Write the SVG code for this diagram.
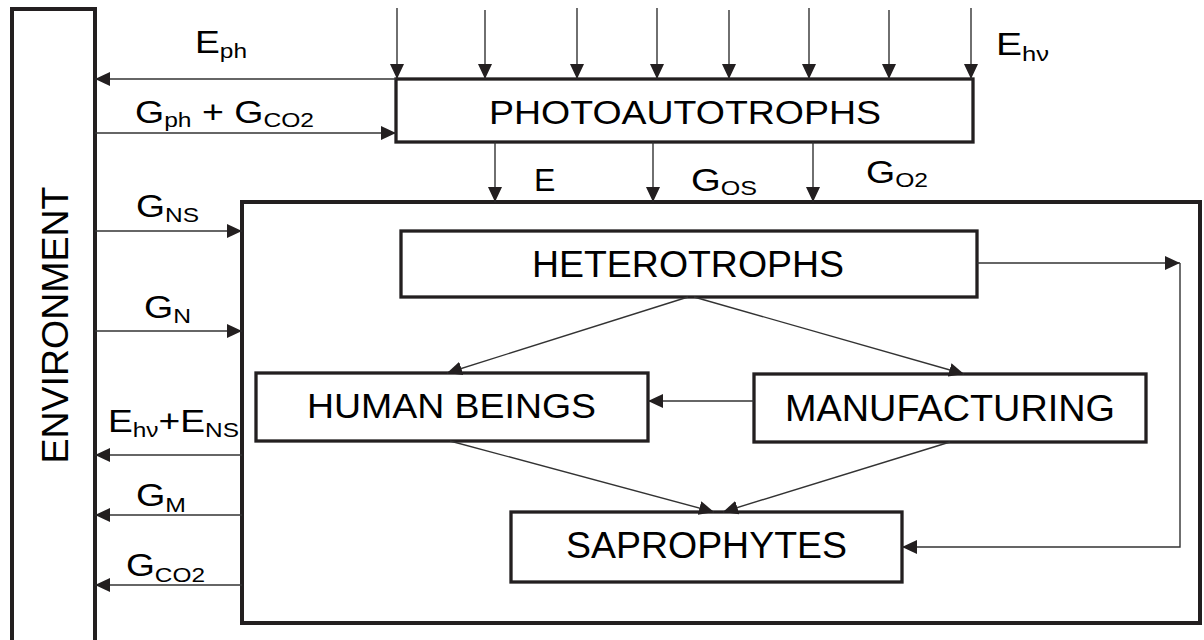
<svg xmlns="http://www.w3.org/2000/svg" width="1204" height="640" viewBox="0 0 1204 640">
<style>
.box{fill:#fff;stroke:#231f20;stroke-width:3.3}
.heavy{stroke-width:4}
.ln{fill:none;stroke:#333;stroke-width:1.4}
.t{font-family:"Liberation Sans",Arial,sans-serif;fill:#000}
.lab{font-size:32px}
.sub{font-size:21px}
</style>
<defs>
<marker id="ah" viewBox="0 0 15 14" refX="15" refY="7" markerWidth="15" markerHeight="14" markerUnits="userSpaceOnUse" orient="auto">
<path d="M0,0 L15,7 L0,14 z" fill="#231f20"/>
</marker>
</defs>
<rect width="1204" height="640" fill="#fff"/>

<g id="environment">
<rect class="box heavy" x="12" y="9" width="83" height="700"/>
<text class="t" font-size="37" transform="translate(68,325) rotate(-90)" text-anchor="middle" textLength="277" lengthAdjust="spacingAndGlyphs">ENVIRONMENT</text>
</g>

<g id="system">
<rect class="box heavy" x="242" y="202" width="958" height="421"/>
</g>

<g id="photoautotrophs">
<rect class="box" x="396" y="79" width="577" height="63"/>
<text class="t" font-size="34" x="489" y="124" textLength="392" lengthAdjust="spacingAndGlyphs">PHOTOAUTOTROPHS</text>
</g>

<g id="heterotrophs">
<rect class="box" x="401" y="231" width="576" height="66"/>
<text class="t" font-size="37" x="532" y="277" textLength="312" lengthAdjust="spacingAndGlyphs">HETEROTROPHS</text>
</g>

<g id="human-beings">
<rect class="box" x="256" y="373" width="392" height="68"/>
<text class="t" font-size="35" x="307" y="418" textLength="289" lengthAdjust="spacingAndGlyphs">HUMAN BEINGS</text>
</g>

<g id="manufacturing">
<rect class="box" x="754" y="374" width="392" height="68"/>
<text class="t" font-size="37" x="785" y="421" textLength="330" lengthAdjust="spacingAndGlyphs">MANUFACTURING</text>
</g>

<g id="saprophytes">
<rect class="box" x="511" y="512" width="391" height="70"/>
<text class="t" font-size="36" x="566" y="558" textLength="281" lengthAdjust="spacingAndGlyphs">SAPROPHYTES</text>
</g>

<g id="connectors">
<line class="ln" x1="397" y1="8" x2="397" y2="79" marker-end="url(#ah)"/>
<line class="ln" x1="485" y1="10" x2="485" y2="79" marker-end="url(#ah)"/>
<line class="ln" x1="577" y1="8" x2="577" y2="79" marker-end="url(#ah)"/>
<line class="ln" x1="657" y1="8" x2="657" y2="79" marker-end="url(#ah)"/>
<line class="ln" x1="729" y1="10" x2="729" y2="79" marker-end="url(#ah)"/>
<line class="ln" x1="809" y1="8" x2="809" y2="79" marker-end="url(#ah)"/>
<line class="ln" x1="889" y1="10" x2="889" y2="79" marker-end="url(#ah)"/>
<line class="ln" x1="971" y1="8" x2="971" y2="79" marker-end="url(#ah)"/>
<line class="ln" x1="396" y1="79" x2="95" y2="79" marker-end="url(#ah)"/>
<line class="ln" x1="95" y1="133" x2="396" y2="133" marker-end="url(#ah)"/>
<line class="ln" x1="495" y1="142" x2="495" y2="202" marker-end="url(#ah)"/>
<line class="ln" x1="653" y1="142" x2="653" y2="202" marker-end="url(#ah)"/>
<line class="ln" x1="813" y1="142" x2="813" y2="202" marker-end="url(#ah)"/>
<line class="ln" x1="95" y1="231" x2="242" y2="231" marker-end="url(#ah)"/>
<line class="ln" x1="95" y1="331" x2="242" y2="331" marker-end="url(#ah)"/>
<line class="ln" x1="242" y1="455" x2="95" y2="455" marker-end="url(#ah)"/>
<line class="ln" x1="242" y1="515" x2="95" y2="515" marker-end="url(#ah)"/>
<line class="ln" x1="242" y1="585" x2="95" y2="585" marker-end="url(#ah)"/>
<line class="ln" x1="688" y1="297" x2="447" y2="373" marker-end="url(#ah)"/>
<line class="ln" x1="694" y1="297" x2="964" y2="374" marker-end="url(#ah)"/>
<line class="ln" x1="754" y1="401" x2="648" y2="401" marker-end="url(#ah)"/>
<line class="ln" x1="450" y1="441" x2="714" y2="512" marker-end="url(#ah)"/>
<line class="ln" x1="950" y1="442" x2="723" y2="512" marker-end="url(#ah)"/>
<line class="ln" x1="977" y1="263" x2="1180" y2="263" marker-end="url(#ah)"/>
<polyline class="ln" points="1180,263 1180,547 902,547" marker-end="url(#ah)"/>
</g>

<g id="labels" class="t">
<text class="lab" font-size="34" x="195" y="53" textLength="52" lengthAdjust="spacingAndGlyphs">E<tspan class="sub" dy="5">ph</tspan></text>
<text class="lab" x="135" y="123" textLength="179" lengthAdjust="spacingAndGlyphs">G<tspan class="sub" dy="4">ph</tspan><tspan dy="-4"> + G</tspan><tspan class="sub" dy="4">CO2</tspan></text>
<text class="lab" font-size="36" x="996" y="55" textLength="53" lengthAdjust="spacingAndGlyphs">E<tspan class="sub" dy="6">hν</tspan></text>
<text class="lab" font-size="36" x="534" y="191">E</text>
<text class="lab" font-size="35" x="691" y="191" textLength="66" lengthAdjust="spacingAndGlyphs">G<tspan class="sub" font-size="24" dy="4">OS</tspan></text>
<text class="lab" x="866" y="183" textLength="62" lengthAdjust="spacingAndGlyphs">G<tspan class="sub" dy="4">O2</tspan></text>
<text class="lab" font-size="33" x="136" y="217" textLength="63" lengthAdjust="spacingAndGlyphs">G<tspan class="sub" dy="5">NS</tspan></text>
<text class="lab" font-size="30" x="144" y="318" textLength="47" lengthAdjust="spacingAndGlyphs">G<tspan class="sub" font-size="23" dy="5">N</tspan></text>
<text class="lab" font-size="30" x="108" y="432" textLength="131" lengthAdjust="spacingAndGlyphs">E<tspan class="sub" font-size="20" dy="5">hν</tspan><tspan dy="-5">+E</tspan><tspan class="sub" font-size="20" dy="5">NS</tspan></text>
<text class="lab" font-size="30" x="136" y="506" textLength="50" lengthAdjust="spacingAndGlyphs">G<tspan class="sub" font-size="20" dy="6">M</tspan></text>
<text class="lab" font-size="30" x="126" y="576" textLength="79" lengthAdjust="spacingAndGlyphs">G<tspan class="sub" dy="6">CO2</tspan></text>
</g>
</svg>
